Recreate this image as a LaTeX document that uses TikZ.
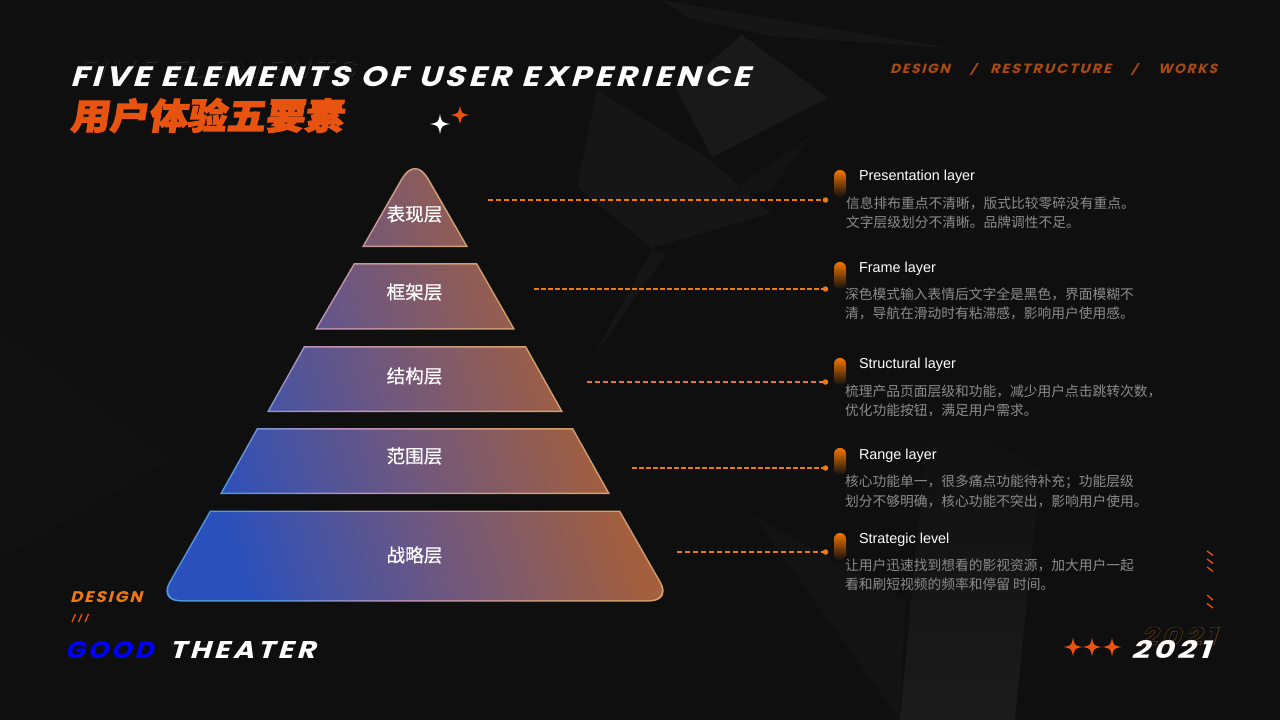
\documentclass[tikz,border=0pt]{standalone}
\usepackage{graphicx}
\usepackage{fontspec}
\setmainfont{Liberation Sans}
\newfontfamily\sci[FakeSlant=0.25,LetterSpace=12]{Poppins}
\newfontfamily\scioutline[FakeSlant=0.25,LetterSpace=12,FakeBold=1.5]{Poppins}
\newfontfamily\scihollow[FakeSlant=0.25,LetterSpace=12]{Poppins}
\newfontfamily\cjk{Noto Sans CJK SC}
\newfontfamily\cjkmed[FakeBold=0.35]{Noto Sans CJK SC}
\newfontfamily\cjkhead[FakeSlant=0.14,FakeBold=3]{Noto Sans CJK SC}
\usetikzlibrary{shadings}
\definecolor{bgc}{HTML}{0F0F0F}
\definecolor{hot}{HTML}{E8540F}
\definecolor{amber}{HTML}{F07A12}
\definecolor{pillc}{HTML}{F47500}
\definecolor{rust}{HTML}{A84A10}
\definecolor{gold}{HTML}{9A6212}
\definecolor{bodyg}{HTML}{8C8C8C}
\definecolor{fillL}{HTML}{2A50BC}
\definecolor{fillM}{HTML}{6C5782}
\definecolor{fillR}{HTML}{A35F3E}
\definecolor{lineL}{HTML}{5596E0}
\definecolor{lineM}{HTML}{BC92BC}
\definecolor{lineR}{HTML}{D2A06C}
\pgfdeclareverticalshading{pyrfill}{100bp}{color(0bp)=(fillL); color(28bp)=(fillL); color(46bp)=(fillM); color(65bp)=(fillR); color(100bp)=(fillR)}
\pgfdeclareverticalshading{pyrline}{100bp}{color(0bp)=(lineL); color(30bp)=(lineL); color(42bp)=(lineM); color(60bp)=(lineR); color(100bp)=(lineR)}
\tikzset{
  x=1pt,y=-1pt,
  every node/.style={inner sep=0pt,outer sep=0pt},
  lay/.style={font=\cjkmed\fontsize{18.6}{20}\selectfont,text=white,anchor=center},
  head/.style={font=\fontsize{14.4}{16}\selectfont,text=white,anchor=west},
  bodyt/.style={font=\cjk\fontsize{13.75}{15}\selectfont,text=bodyg,anchor=west},
  pill/.style={minimum width=12pt,minimum height=27pt,rounded corners=5.8pt,top color=pillc,middle color=pillc!92!bgc,bottom color=bgc,anchor=north west,shade},
  dotn/.style={circle,fill=amber,minimum size=5.5pt},
  conn/.style={draw=amber,line width=1.5pt,dash pattern=on 5pt off 3pt},
  connthin/.style={draw=amber,line width=1.4pt,dash pattern=on 4.5pt off 2.5pt},
  scit/.style={anchor=west},
  slash/.style={draw=hot,line width=1.3pt},
  poly/.style={fill=#1,draw=none}
}
\newcommand{\fitt}[3]{\resizebox{#1pt}{#2pt}{#3}}
\newcommand{\sparkle}[4]{\fill[#4] (#1,#2-#3) .. controls (#1+0.16*#3,#2-0.16*#3) .. (#1+#3,#2) .. controls (#1+0.16*#3,#2+0.16*#3) .. (#1,#2+#3) .. controls (#1-0.16*#3,#2+0.16*#3) .. (#1-#3,#2) .. controls (#1-0.16*#3,#2-0.16*#3) .. cycle;}
\newcommand{\bandshade}[2]{%
  \begin{scope}\clip #1;
    \shade[shading=pyrline,shading angle=-72] (150,150) rectangle (680,615);
  \end{scope}
  \begin{scope}\clip #2;
    \shade[shading=pyrfill,shading angle=-72] (150,150) rectangle (680,615);
  \end{scope}}
\begin{document}
\begin{tikzpicture}
\useasboundingbox (0,0) rectangle (1280,720);
\fill[bgc] (0,0) rectangle (1280,720);
% background facets
\fill[poly={white!3!bgc}] (660,0) -- (950,48) -- (770,36) -- (690,18) -- cycle;
\fill[poly={white!3!bgc}] (597,90) -- (577,187) -- (652,248) -- (770,213) -- (710,160) -- cycle;
\fill[poly={white!4!bgc}] (742,35) -- (828,98) -- (712,157) -- (677,90) -- cycle;
\fill[poly={white!2.5!bgc}] (652,250) -- (666,254) -- (588,365) -- cycle;
\fill[poly={white!1.5!bgc}] (720,200) -- (812,135) -- (770,190) -- cycle;
\fill[poly={white!1.5!bgc}] (753,515) -- (905,600) -- (900,720) -- cycle;
\shade[top color=bgc,bottom color=white!5!bgc] (930,400) -- (1040,470) -- (1015,720) -- (900,720) -- cycle;
\fill[poly={white!1!bgc}] (0,330) -- (170,460) -- (0,560) -- cycle;
% heading
\node[scit] (ghostA) at (75,69) {\fitt{280}{17}{\color{white!16!bgc}\scioutline FIVE ELEMENTS}};
\node[scit] (ghostB) at (75,69) {\fitt{280}{17}{\color{bgc}\scihollow FIVE ELEMENTS}};
\node[scit] (title) at (70,77) {\fitt{680}{20}{\color{white}\sci\bfseries FIVE ELEMENTS OF USER EXPERIENCE}};
\node[scit] (titlecn) at (70,115.5) {\fitt{273}{31}{\color{hot}\cjkhead\bfseries 用户体验五要素}};
\sparkle{440}{124}{10}{white}
\sparkle{460}{115}{9.5}{hot}
% top right
\node[scit] (t1) at (890,69) {\fitt{60}{9.5}{\color{rust}\sci\bfseries DESIGN}};
\node[scit] (t2) at (970,69) {\fitt{6}{10}{\color{rust}\sci\bfseries /}};
\node[scit] (t3) at (990,69) {\fitt{121}{9.5}{\color{rust}\sci\bfseries RESTRUCTURE}};
\node[scit] (t4) at (1131,69) {\fitt{6}{10}{\color{rust}\sci\bfseries /}};
\node[scit] (t5) at (1158,69) {\fitt{59}{9.5}{\color{rust}\sci\bfseries WORKS}};
% pyramid
\bandshade{(362,247) -- (401,179) .. controls (406,171) and (410,168) .. (415,168) .. controls (420,168) and (424,171) .. (429,179) -- (468,247) -- cycle}
 {(364.6,245.5) -- (402.5,179.8) .. controls (407,172.5) and (411,169.5) .. (415,169.5) .. controls (419,169.5) and (423,172.5) .. (427.5,179.8) -- (465.4,245.5) -- cycle}
\bandshade{(354,263) -- (477,263) -- (515,329.5) -- (315,329.5) -- cycle}
 {(354.9,264.5) -- (476.1,264.5) -- (512.4,328) -- (317.6,328) -- cycle}
\bandshade{(304,346) -- (526,346) -- (563,412) -- (267,412) -- cycle}
 {(304.9,347.5) -- (525.1,347.5) -- (560.4,410.5) -- (269.6,410.5) -- cycle}
\bandshade{(257,428) -- (573,428) -- (610,494) -- (220,494) -- cycle}
 {(257.9,429.5) -- (572.1,429.5) -- (607.4,492.5) -- (222.6,492.5) -- cycle}
\bandshade{(210,510.5) -- (620,510.5) [rounded corners=22pt] -- (672,601.5) -- (158,601.5) [sharp corners] -- cycle}
 {(210.9,512) -- (619.1,512) [rounded corners=20pt] -- (669.4,600) -- (160.6,600) [sharp corners] -- cycle}
\node[lay] (l1) at (414.5,214) {表现层};
\node[lay] (l2) at (414.5,292) {框架层};
\node[lay] (l3) at (414.5,376) {结构层};
\node[lay] (l4) at (414.5,456) {范围层};
\node[lay] (l5) at (414.5,555) {战略层};
% connectors
\coordinate (c1) at (488,200);
\coordinate (c2) at (534,289);
\coordinate (c3) at (587,382);
\coordinate (c4) at (632,468);
\coordinate (c5) at (677,552);
\node[dotn] (d1) at (825.5,200) {};
\node[dotn] (d2) at (825.5,289) {};
\node[dotn] (d3) at (825.5,382) {};
\node[dotn] (d4) at (825.5,468) {};
\node[dotn] (d5) at (825.5,552) {};
\draw[conn] (c1) -- (d1);
\draw[connthin] (c2) -- (d2);
\draw[conn] (c3) -- (d3);
\draw[connthin] (c4) -- (d4);
\draw[conn] (c5) -- (d5);
% right column
\node[pill] (p1) at (834,170) {};
\node[pill] (p2) at (834,262) {};
\node[pill] (p3) at (834,358) {};
\node[pill] (p4) at (834,448) {};
\node[pill] (p5) at (834,533) {};
\node[head] (h1) at (859,177) {Presentation layer};
\node[head] (h2) at (859,269) {Frame layer};
\node[head] (h3) at (859,365) {Structural layer};
\node[head] (h4) at (859,456) {Range layer};
\node[head] (h5) at (859,540) {Strategic level};
\node[bodyt] (b1a) at (846,203) {信息排布重点不清晰，版式比较零碎没有重点。};
\node[bodyt] (b1b) at (846,222) {文字层级划分不清晰。品牌调性不足。};
\node[bodyt] (b2a) at (845,294) {深色模式输入表情后文字全是黑色，界面模糊不};
\node[bodyt] (b2b) at (845,313) {清，导航在滑动时有粘滞感，影响用户使用感。};
\node[bodyt] (b3a) at (845,391) {梳理产品页面层级和功能，减少用户点击跳转次数，};
\node[bodyt] (b3b) at (845,410) {优化功能按钮，满足用户需求。};
\node[bodyt] (b4a) at (845,482) {核心功能单一，很多痛点功能待补充；功能层级};
\node[bodyt] (b4b) at (845,501) {划分不够明确，核心功能不突出，影响用户使用。};
\node[bodyt] (b5a) at (845,565) {让用户迅速找到想看的影视资源，加大用户一起};
\node[bodyt] (b5b) at (845,584) {看和刷短视频的频率和停留 时间。};
% bottom left
\node[scit] (dsgn) at (70,597) {\fitt{72}{11}{\color{amber}\sci\bfseries DESIGN}};
\draw[slash] (72,622) -- (75.5,614);
\draw[slash] (78.5,622) -- (82,614);
\draw[slash] (85,622) -- (88.5,614);
\node[scit] (good) at (65,650) {\fitt{88}{17}{\color{blue}\sci\bfseries GOOD}};
\node[scit] (thtr) at (169,650) {\fitt{146}{17}{\color{white}\sci\bfseries THEATER}};
% bottom right
\node[scit] (yrA) at (1140,636) {\fitt{76}{18}{\color{gold}\scioutline\bfseries 2021}};
\node[scit] (yrB) at (1140,636) {\fitt{76}{18}{\color{bgc}\scihollow\bfseries 2021}};
\node[scit] (yr) at (1131,649) {\fitt{79}{18}{\color{white}\sci\bfseries 2021}};
\sparkle{1073}{647}{9.5}{hot}
\sparkle{1092}{647}{9.5}{hot}
\sparkle{1112}{647}{9.5}{hot}
\draw[slash] (1207,551) -- (1213,555.5);
\draw[slash] (1207,559) -- (1213,563.5);
\draw[slash] (1207,567) -- (1213,571.5);
\draw[slash] (1207,595) -- (1213,600);
\draw[slash] (1207,603.5) -- (1213,608);
\end{tikzpicture}
\end{document}
